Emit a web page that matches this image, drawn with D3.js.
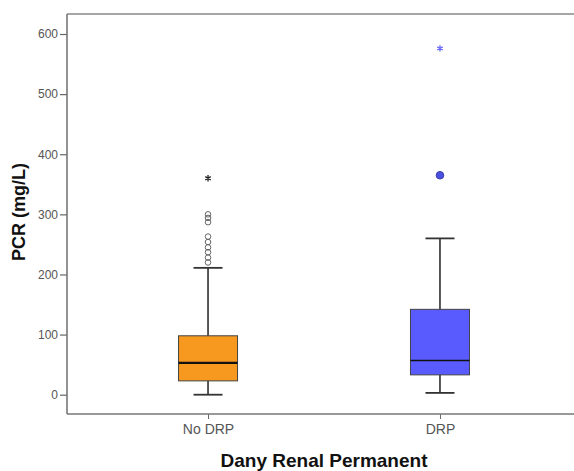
<!DOCTYPE html>
<html>
<head>
<meta charset="utf-8">
<script src="https://d3js.org/d3.v7.min.js"></script>
<style>
  body { margin: 0; background: #fff; }
  svg { display: block; font-family: "Liberation Sans", Arial, sans-serif; }
</style>
</head>
<body>
<div id="container"></div>
<script>
// data
const categories = ["No DRP", "DRP"];
const colors = ["#f7981f", "#5a5bff"];
const q1 = [23, 33];
const median = [53, 57];
const q3 = [98, 142];
const whiskerLow = [0, 3];
const whiskerHigh = [211, 260];
const outliers = [[220, 228, 237, 245, 254, 263, 287, 294, 300], [365]];
const extremes = [[360], [576]];
const yTicks = [0, 100, 200, 300, 400, 500, 600];

const W = 574, H = 471;
const plotLeft = 67, plotTop = 14, plotBottom = 414, plotRight = 581;

const svg = d3.select("#container").append("svg")
  .attr("width", W)
  .attr("height", H);

const y = d3.scaleLinear()
  .domain([0, 600])
  .range([394.7, 34]);

const x = d3.scalePoint()
  .domain(categories)
  .range([plotLeft, plotRight])
  .padding(0.608);

// frame top line
svg.append("line")
  .attr("x1", plotLeft).attr("x2", W)
  .attr("y1", plotTop).attr("y2", plotTop)
  .attr("stroke", "#888").attr("stroke-width", 1.5);

// y axis
const yAxis = svg.append("g")
  .attr("transform", `translate(${plotLeft},0)`)
  .call(d3.axisLeft(y).tickValues(yTicks).tickSize(7).tickPadding(2));
yAxis.select(".domain").remove();
yAxis.selectAll(".tick line").attr("stroke", "#666").attr("stroke-width", 1.2);
yAxis.selectAll(".tick text")
  .attr("fill", "#555")
  .style("font-size", "12px")
  .style("font-family", "Liberation Sans, Arial, sans-serif");
svg.append("line")
  .attr("x1", plotLeft).attr("x2", plotLeft)
  .attr("y1", plotTop).attr("y2", plotBottom)
  .attr("stroke", "#777").attr("stroke-width", 1.6);

// x axis
const xAxis = svg.append("g")
  .attr("transform", `translate(0,${plotBottom})`)
  .call(d3.axisBottom(x).tickSize(5).tickPadding(5));
xAxis.select(".domain").remove();
xAxis.selectAll(".tick line").attr("stroke", "#666");
xAxis.selectAll(".tick text")
  .attr("fill", "#555")
  .style("font-size", "14px")
  .style("font-family", "Liberation Sans, Arial, sans-serif");
svg.append("line")
  .attr("x1", plotLeft).attr("x2", W)
  .attr("y1", plotBottom).attr("y2", plotBottom)
  .attr("stroke", "#777").attr("stroke-width", 1.6);

// boxes
const boxW = 59, capW = 29;
const groups = svg.selectAll(".box")
  .data(categories)
  .enter()
  .append("g")
  .attr("class", "box");

groups.append("line")
  .attr("x1", (d) => x(d)).attr("x2", (d) => x(d))
  .attr("y1", (d, i) => y(whiskerHigh[i]))
  .attr("y2", (d, i) => y(whiskerLow[i]))
  .attr("stroke", "#111").attr("stroke-width", 1.4);

groups.selectAll(".cap")
  .data((d, i) => [{ c: d, v: whiskerHigh[i] }, { c: d, v: whiskerLow[i] }])
  .enter()
  .append("line")
  .attr("x1", (d) => x(d.c) - capW / 2)
  .attr("x2", (d) => x(d.c) + capW / 2)
  .attr("y1", (d) => y(d.v)).attr("y2", (d) => y(d.v))
  .attr("stroke", "#333").attr("stroke-width", 1.8);

groups.append("rect")
  .attr("x", (d) => x(d) - boxW / 2)
  .attr("width", boxW)
  .attr("y", (d, i) => y(q3[i]))
  .attr("height", (d, i) => y(q1[i]) - y(q3[i]))
  .attr("fill", (d, i) => colors[i])
  .attr("stroke", "#444").attr("stroke-width", 1);

groups.append("line")
  .attr("x1", (d) => x(d) - boxW / 2)
  .attr("x2", (d) => x(d) + boxW / 2)
  .attr("y1", (d, i) => y(median[i]))
  .attr("y2", (d, i) => y(median[i]))
  .attr("stroke", "#111")
  .attr("stroke-width", (d, i) => i === 0 ? 2.2 : 1.4);

// outliers
groups.selectAll(".out")
  .data((d, i) => outliers[i].map((v) => ({ c: d, i: i, v: v })))
  .enter()
  .append("circle")
  .attr("cx", (d) => x(d.c))
  .attr("cy", (d) => y(d.v))
  .attr("r", (d) => d.i === 0 ? 2.8 : 3.8)
  .attr("fill", (d) => d.i === 0 ? "none" : "#4a4fe0")
  .attr("stroke", (d) => d.i === 0 ? "#666" : "#3a3fb0")
  .attr("stroke-width", 1);

// extremes (asterisks)
const star = d3.symbol().type(d3.symbolAsterisk || d3.symbolCross).size(28);
groups.selectAll(".ext")
  .data((d, i) => extremes[i].map((v) => ({ c: d, i: i, v: v })))
  .enter()
  .append("path")
  .attr("d", star)
  .attr("transform", (d) => `translate(${x(d.c)},${y(d.v)})`)
  .attr("fill", "none")
  .attr("stroke", (d) => d.i === 0 ? "#222" : "#6a6aff")
  .attr("stroke-width", 1.3);

// axis titles
svg.append("text")
  .attr("x", 324)
  .attr("y", 467)
  .attr("text-anchor", "middle")
  .style("font-size", "19px")
  .style("font-weight", "bold")
  .attr("fill", "#111")
  .text("Dany Renal Permanent");

svg.append("text")
  .attr("transform", "translate(25,212) rotate(-90)")
  .attr("text-anchor", "middle")
  .style("font-size", "18px")
  .style("font-weight", "bold")
  .attr("fill", "#111")
  .text("PCR (mg/L)");
</script>
</body>
</html>
